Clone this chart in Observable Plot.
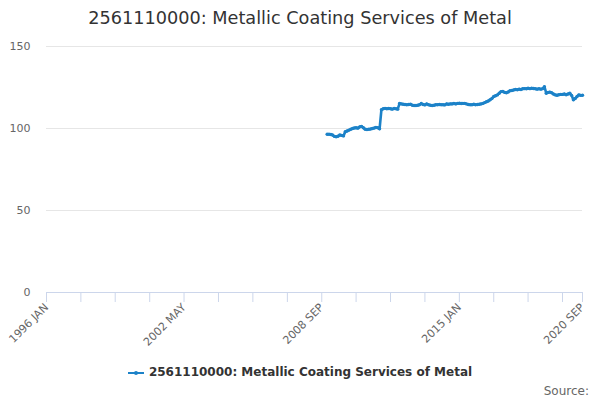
<!DOCTYPE html>
<html>
<head>
<meta charset="utf-8">
<script src="https://cdn.jsdelivr.net/npm/d3@7"></script>
<script src="https://cdn.jsdelivr.net/npm/@observablehq/plot@0.6"></script>
<style>
  body { margin: 0; background: #fff; font-family: "DejaVu Sans", sans-serif; }
  #wrap { width: 600px; height: 400px; position: relative; overflow: hidden; }
  #title { height: 36px; line-height: 36px; text-align: center; font-size: 17.7px; color: #333; }
  #legend { height: 24px; line-height: 24px; text-align: center; font-size: 12px; font-weight: bold; color: #333; }
  #legend svg { vertical-align: middle; margin-right: 5px; }
  #source { height: 14px; line-height: 14px; text-align: right; font-size: 12px; color: #666; padding-right: 11px; }
</style>
</head>
<body>
<div id="wrap">
  <div id="title"></div>
  <div id="chart"></div>
  <div id="legend"></div>
  <div id="source"></div>
</div>
<script>
const titleText = "2561110000: Metallic Coating Services of Metal";
const seriesName = "2561110000: Metallic Coating Services of Metal";
const sourceText = "Source:";
const lineColor = "#1c82c8";

// monthly values, first month = 2008 DEC
const startYear = 2008, startMonth = 11; // 0-based month (DEC)
const v2008 = [96.5];
const v2009 = [96.5, 96.3, 96.0, 95.2, 95.0, 95.3, 96.0, 95.8, 95.5, 98.0, 98.5, 99.0];
const v2010 = [99.5, 100.0, 100.3, 100.5, 100.2, 101.0, 101.3, 100.5, 99.5, 99.4, 99.5, 99.7];
const v2011 = [100.0, 100.3, 100.6, 100.5, 99.8, 111.5, 112.0, 112.3, 112.0, 112.2, 112.0, 111.8];
const v2012 = [112.2, 112.0, 111.8, 115.3, 115.0, 114.8, 114.6, 114.5, 114.6, 114.8, 114.2, 114.0];
const v2013 = [114.0, 114.2, 114.5, 115.2, 114.6, 114.4, 115.0, 114.5, 114.2, 114.0, 114.2, 114.5];
const v2014 = [114.5, 114.6, 114.5, 114.5, 114.4, 115.0, 114.8, 115.0, 115.0, 115.2, 115.0, 115.3];
const v2015 = [115.4, 115.2, 115.3, 115.3, 115.0, 114.6, 114.5, 114.5, 114.8, 114.5, 114.6, 114.8];
const v2016 = [115.0, 115.3, 115.8, 116.3, 116.8, 117.5, 118.3, 119.5, 120.0, 120.5, 121.5, 122.5];
const v2017 = [122.6, 122.0, 121.8, 122.3, 123.0, 123.2, 123.5, 123.8, 123.6, 124.0, 123.8, 124.2];
const v2018 = [124.3, 124.2, 124.5, 124.3, 124.5, 124.4, 124.2, 124.0, 124.3, 124.0, 124.3, 125.5];
const v2019 = [121.5, 122.0, 122.2, 121.8, 121.0, 120.5, 120.3, 120.6, 120.8, 120.8, 121.0, 120.6];
const v2020 = [121.0, 121.5, 120.2, 117.5, 118.3, 119.5, 120.5, 120.2, 120.3];

const yTicks = [0, 50, 100, 150];
const monthNames = ["JAN","FEB","MAR","APR","MAY","JUN","JUL","AUG","SEP","OCT","NOV","DEC"];
const axisStart = new Date(Date.UTC(1996, 0, 1));
const axisEnd = new Date(Date.UTC(2020, 8, 1));
const tickStepMonths = 19;
const labelEvery = 4;

const values = [].concat(v2008, v2009, v2010, v2011, v2012, v2013, v2014, v2015, v2016, v2017, v2018, v2019, v2020);
const data = values.map((v, i) => ({ date: new Date(Date.UTC(startYear, startMonth + i, 1)), value: v }));

// ticks
const ticks = [];
for (let k = 0; ; k++) {
  const d = new Date(Date.UTC(1996, k * tickStepMonths, 1));
  if (d > axisEnd) break;
  ticks.push({ date: d, label: k % labelEvery === 0 ? d.getUTCFullYear() + " " + monthNames[d.getUTCMonth()] : "" });
}
ticks.push({ date: axisEnd, label: axisEnd.getUTCFullYear() + " " + monthNames[axisEnd.getUTCMonth()] });
const labelMap = new Map(ticks.map(t => [+t.date, t.label]));

document.getElementById("title").textContent = titleText;
document.getElementById("source").textContent = sourceText;

const chart = Plot.plot({
  width: 600,
  height: 324,
  marginTop: 10,
  marginBottom: 68,
  marginLeft: 46,
  marginRight: 18,
  style: { fontFamily: "DejaVu Sans, sans-serif", fontSize: "11px", color: "#666", background: "#fff" },
  x: { type: "utc", domain: [axisStart, axisEnd] },
  y: { domain: [0, 150] },
  marks: [
    Plot.gridY(yTicks, { stroke: "#e6e6e6", strokeOpacity: 1 }),
    Plot.axisY(yTicks, { tickSize: 0, tickPadding: 16, label: null, fill: "#666" }),
    Plot.ruleY([0], { stroke: "#ccd6eb" }),
    Plot.axisX(ticks.map(t => t.date), {
      tickSize: 10, tickPadding: 3, stroke: "#ccd6eb", fill: "#666",
      tickRotate: -45, label: null,
      tickFormat: d => labelMap.get(+d) || ""
    }),
    Plot.line(data, { x: "date", y: "value", stroke: lineColor, strokeWidth: 2.6 }),
    Plot.dot(data, { x: "date", y: "value", fill: lineColor, r: 1.7 })
  ]
});
document.getElementById("chart").appendChild(chart);

// legend
const leg = document.getElementById("legend");
const ns = "http://www.w3.org/2000/svg";
const sym = document.createElementNS(ns, "svg");
sym.setAttribute("width", "16"); sym.setAttribute("height", "12");
const ln = document.createElementNS(ns, "line");
ln.setAttribute("x1", "0"); ln.setAttribute("x2", "16"); ln.setAttribute("y1", "6"); ln.setAttribute("y2", "6");
ln.setAttribute("stroke", lineColor); ln.setAttribute("stroke-width", "2");
const cc = document.createElementNS(ns, "circle");
cc.setAttribute("cx", "8"); cc.setAttribute("cy", "6"); cc.setAttribute("r", "2"); cc.setAttribute("fill", lineColor);
sym.appendChild(ln); sym.appendChild(cc);
leg.appendChild(sym);
leg.appendChild(document.createTextNode(seriesName));
</script>
</body>
</html>
